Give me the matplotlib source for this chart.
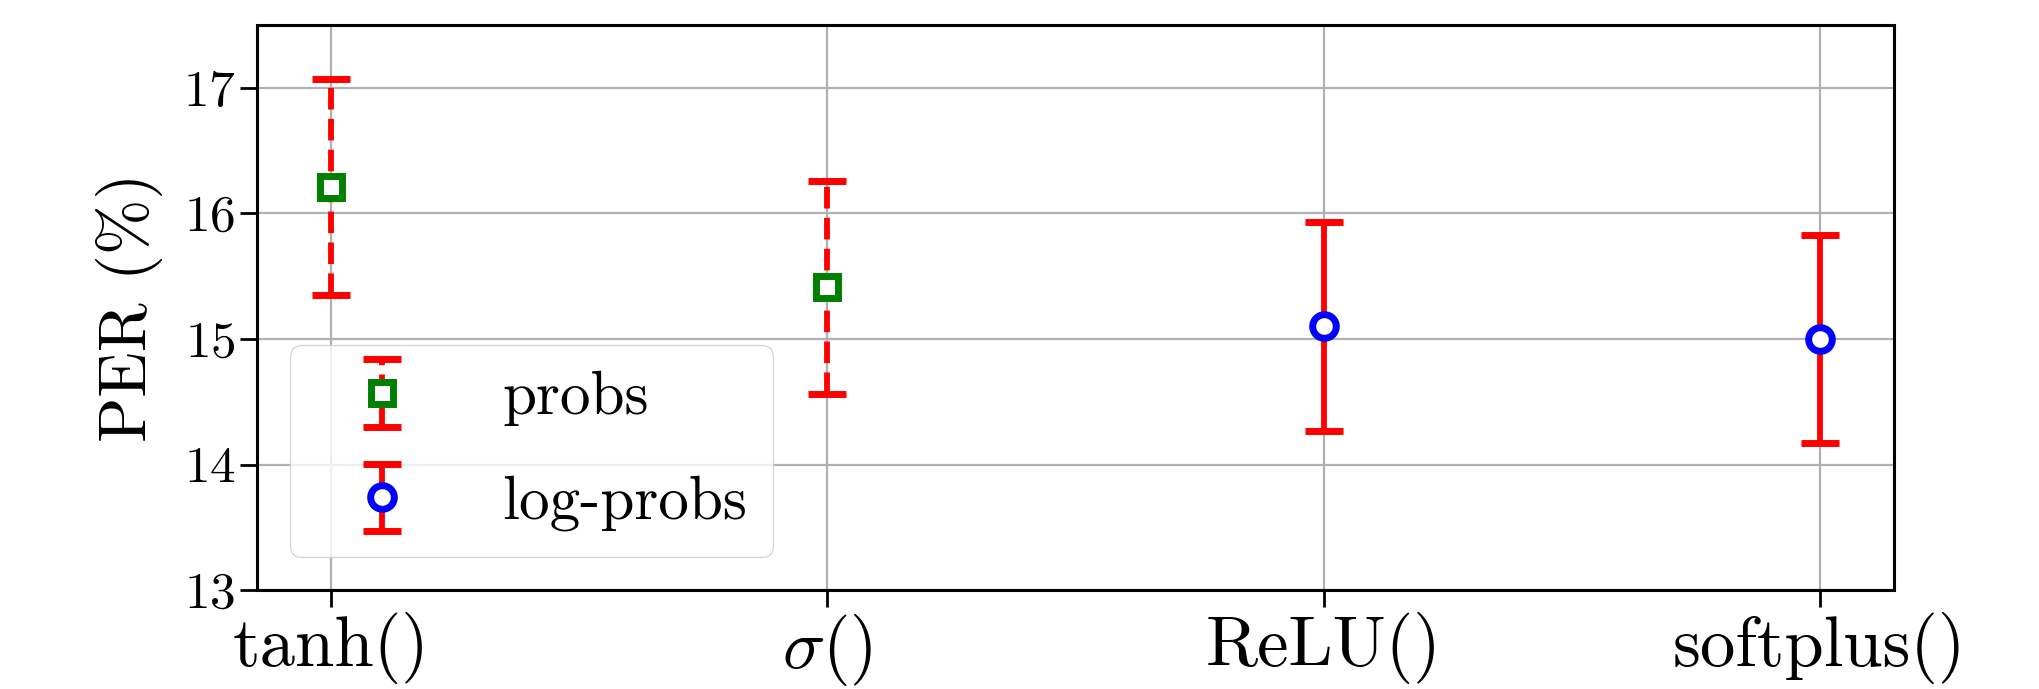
import numpy as np
import matplotlib
matplotlib.use('Agg')
import matplotlib.pyplot as plt
from matplotlib.legend_handler import HandlerErrorbar
from matplotlib.container import ErrorbarContainer

plt.rcParams['font.family'] = 'serif'
plt.rcParams['font.serif'] = ['cmr10', 'DejaVu Serif']
plt.rcParams['mathtext.fontset'] = 'cm'
plt.rcParams['axes.formatter.use_mathtext'] = True

# данные
labels = ['tanh()', r'$\sigma$()', 'ReLU()', 'softplus()']
probs_x = [0, 1]
probs_y = [16.21, 15.41]
probs_err = [0.86, 0.845]
log_x = [2, 3]
log_y = [15.10, 15.00]
log_err = [0.83, 0.83]

fig, ax = plt.subplots(figsize=(20.39, 6.89), dpi=100)
fig.subplots_adjust(left=0.126, right=0.929, top=0.964, bottom=0.1435)

ax.grid(True, color='#b0b0b0', linewidth=1.6)
ax.set_axisbelow(True)

eb1 = ax.errorbar(probs_x, probs_y, yerr=probs_err, fmt='s', color='green',
                  mfc='white', mec='green', ms=16.5, mew=5,
                  ecolor='red', elinewidth=4.2, capsize=13.5, capthick=5,
                  label='probs')
eb1[2][0].set_linestyle('--')

eb2 = ax.errorbar(log_x, log_y, yerr=log_err, fmt='o', color='blue',
                  mfc='white', mec='blue', ms=17, mew=5,
                  ecolor='red', elinewidth=4.2, capsize=13.5, capthick=5,
                  label='log-probs')

ax.set_xlim(-0.15, 3.15)
ax.set_ylim(13, 17.5)
ax.set_xticks(range(len(labels)))
ax.set_xticklabels(labels, fontsize=51)
ax.set_yticks([13, 14, 15, 16, 17])
ax.tick_params(axis='y', labelsize=37, length=12, width=2)
ax.tick_params(axis='x', length=12, width=2)
for s in ax.spines.values():
    s.set_linewidth(2.2)

ax.set_ylabel('PER (%)', fontsize=48, labelpad=14)
ax.legend(loc='lower left', fontsize=44, labelspacing=0.8, borderpad=0.42,
          handlelength=2.18, handletextpad=0.87, borderaxespad=0.545,
          handler_map={ErrorbarContainer: HandlerErrorbar(xerr_size=0.55)})

plt.savefig('out.png', dpi=100)
